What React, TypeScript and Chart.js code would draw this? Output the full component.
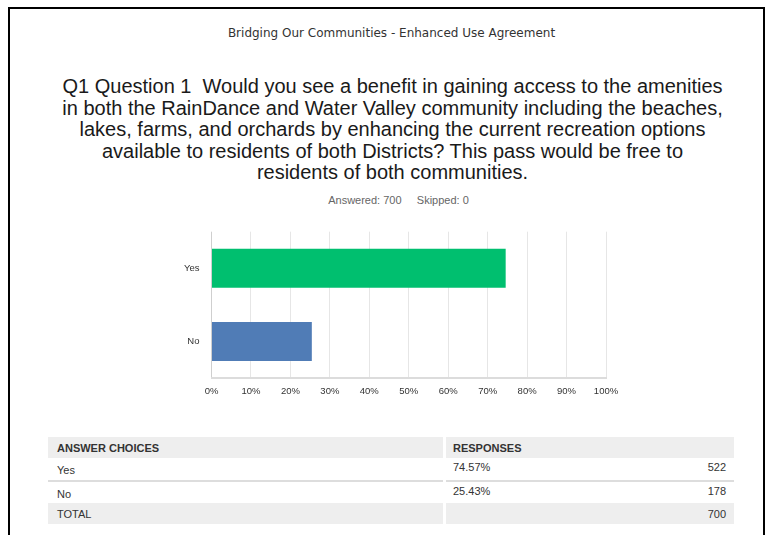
import React, { useEffect, useRef } from "react";
import { Chart, registerables } from "chart.js";

Chart.register(...registerables);

const surveyTitle = "Bridging Our Communities - Enhanced Use Agreement";
const questionLines = [
  "Q1 Question 1\u00a0\u00a0Would you see a benefit in gaining access to the amenities",
  "in both the RainDance and Water Valley community including the beaches,",
  "lakes, farms, and orchards by enhancing the current recreation options",
  "available to residents of both Districts? This pass would be free to",
  "residents of both communities.",
];
const answered = 700;
const skipped = 0;
const categories = ["Yes", "No"];
const percents = [74.57, 25.43];
const counts = [522, 178];
const total = 700;
const barColors = ["#00BF6F", "#507CB6"];

function BarChart() {
  const ref = useRef<HTMLCanvasElement | null>(null);
  useEffect(() => {
    if (!ref.current) return;
    const chart = new Chart(ref.current, {
      type: "bar",
      data: {
        labels: categories,
        datasets: [
          {
            data: percents,
            backgroundColor: barColors,
            borderWidth: 0,
            categoryPercentage: 0.534,
            barPercentage: 1,
          },
        ],
      },
      options: {
        indexAxis: "y",
        animation: false,
        responsive: false,
        maintainAspectRatio: false,
        layout: { padding: { top: 7, right: 24, left: 0, bottom: 0 } },
        plugins: { legend: { display: false }, tooltip: { enabled: false } },
        scales: {
          x: {
            min: 0,
            max: 100,
            ticks: {
              stepSize: 10,
              callback: (v: any) => v + "%",
              color: "#333",
              font: { family: "Liberation Sans", size: 9.5 },
              padding: 8,
            },
            grid: {
              color: (ctx: any) => (ctx.index === 0 ? "#cfcfcf" : "#e6e6e6"),
              lineWidth: 1,
              drawTicks: false,
            },
            border: { display: true, color: "#dcdcdc", width: 2 },
            afterFit: (s: any) => {
              s.height = 22;
            },
          },
          y: {
            ticks: {
              color: "#333",
              font: { family: "Liberation Sans", size: 9.5 },
              padding: 12,
            },
            grid: { display: false, drawTicks: false },
            border: { display: false },
            afterFit: (s: any) => {
              s.width = 61.5;
            },
          },
        },
      },
    });
    return () => chart.destroy();
  }, []);
  return (
    <canvas
      ref={ref}
      width={480}
      height={186}
      style={{ position: "absolute", left: 150, top: 214, width: 480, height: 186 }}
    />
  );
}

const cell: React.CSSProperties = {
  position: "absolute",
  fontFamily: "'Liberation Sans', Arial, sans-serif",
  fontSize: 11,
  color: "#333",
  lineHeight: "12px",
};

export default function App() {
  return (
    <div
      style={{
        position: "fixed",
        left: 0,
        top: 0,
        width: 770,
        height: 535,
        background: "#fff",
        overflow: "hidden",
      }}
    >
      <div
        style={{
          position: "absolute",
          left: 8,
          top: 7,
          width: 753,
          height: 600,
          borderLeft: "2px solid #000",
          borderTop: "2px solid #000",
          borderRight: "2px solid #000",
        }}
      />
      <div
        style={{
          position: "absolute",
          left: 0,
          width: 783,
          top: 25,
          textAlign: "center",
          fontFamily: "'DejaVu Sans', sans-serif",
          fontSize: 12,
          color: "#333",
          lineHeight: "16px",
        }}
      >
        {surveyTitle}
      </div>
      <div
        style={{
          position: "absolute",
          left: 0,
          width: 785,
          top: 76,
          textAlign: "center",
          fontFamily: "'Liberation Sans', Arial, sans-serif",
          fontSize: 20,
          color: "#1a1a1a",
          lineHeight: "21.5px",
        }}
      >
        {questionLines.map((l, i) => (
          <div key={i}>{l}</div>
        ))}
      </div>
      <div
        style={{
          position: "absolute",
          left: 0,
          width: 797,
          top: 194,
          textAlign: "center",
          fontFamily: "'Liberation Sans', Arial, sans-serif",
          fontSize: 11,
          color: "#666",
          lineHeight: "12px",
          whiteSpace: "pre",
        }}
      >
        {`Answered: ${answered}     Skipped: ${skipped}`}
      </div>
      <BarChart />
      {/* table */}
      <div style={{ position: "absolute", left: 48, top: 437, width: 395, height: 21, background: "#eeeeee" }} />
      <div style={{ position: "absolute", left: 446, top: 437, width: 288, height: 21, background: "#eeeeee" }} />
      <div style={{ ...cell, left: 57, top: 442, fontWeight: "bold" }}>ANSWER CHOICES</div>
      <div style={{ ...cell, left: 453, top: 442, fontWeight: "bold" }}>RESPONSES</div>
      {categories.map((c, i) => {
        const top = 458 + i * 24;
        return (
          <React.Fragment key={c}>
            <div style={{ ...cell, left: 57, top: top + 6 }}>{c}</div>
            <div style={{ ...cell, left: 453, top: top + 3 }}>{percents[i].toFixed(2)}%</div>
            <div style={{ ...cell, left: 600, width: 126, textAlign: "right", top: top + 3 }}>{counts[i]}</div>
            {i < categories.length - 1 && (
              <>
                <div style={{ position: "absolute", left: 48, top: top + 22, width: 395, height: 2, background: "#dddddd" }} />
                <div style={{ position: "absolute", left: 446, top: top + 22, width: 288, height: 2, background: "#dddddd" }} />
              </>
            )}
          </React.Fragment>
        );
      })}
      <div style={{ position: "absolute", left: 48, top: 503, width: 395, height: 21, background: "#eeeeee" }} />
      <div style={{ position: "absolute", left: 446, top: 503, width: 288, height: 21, background: "#eeeeee" }} />
      <div style={{ ...cell, left: 57, top: 508 }}>TOTAL</div>
      <div style={{ ...cell, left: 600, width: 126, textAlign: "right", top: 508 }}>{total}</div>
    </div>
  );
}
